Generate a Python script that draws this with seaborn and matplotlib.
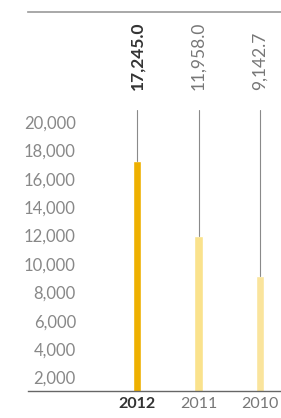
'''Bar chart of yearly totals, 2010-2012'''

import matplotlib.pyplot as plt
import seaborn as sns
import pandas as pd

#data
years = ['2012', '2011', '2010']
values = [17245.0, 11958.0, 9142.7]
value_labels = ['17,245.0', '11,958.0', '9,142.7']
tick_values = [2000, 4000, 6000, 8000, 10000, 12000, 14000, 16000, 18000, 20000]
tick_labels = ['2,000', '4,000', '6,000', '8,000', '10,000', '12,000', '14,000', '16,000', '18,000', '20,000']

bar_colors = {'2012': '#EEB000', '2011': '#FAE28C', '2010': '#FAE49C'}
label_colors = ['#333333', '#777777', '#777777']

df = pd.DataFrame({'year': years, 'value': values})

sns.set_style('white')
plt.rcParams['font.family'] = ['Lato', 'DejaVu Sans']

fig = plt.figure(figsize=(2.81, 4.18), dpi=100)
ax = fig.add_axes([28 / 281, 27 / 418, 253 / 281, 379 / 418])

sns.barplot(data=df, x='year', y='value', hue='year', palette=bar_colors,
            order=years, width=0.14, legend=False, ax=ax, saturation=1)

ax.set_ylim(1050, 27750)
ax.set_xlim(-1.77, 2.34)

#thin lines and value labels above bars
for i, (v, lab) in enumerate(zip(values, value_labels)):
    ax.plot([i, i], [v, 20850], color='#8a8a8a', lw=0.8, zorder=1)
    ax.text(i, 22250, lab, rotation=90, ha='center', va='bottom',
            fontsize=12.5, color=label_colors[i],
            fontweight='bold' if i == 0 else 'normal')

ax.set_yticks(tick_values)
ax.set_yticklabels(tick_labels, color='#888888', fontsize=12)
ax.tick_params(axis='y', length=0, pad=-34.5)
ax.tick_params(axis='x', length=0, pad=4)
for i, t in enumerate(ax.get_xticklabels()):
    t.set_fontsize(11.5)
    t.set_color(label_colors[i])
    if i == 0:
        t.set_fontweight('bold')

ax.set_xlabel('')
ax.set_ylabel('')
sns.despine(ax=ax, left=True, right=True, top=False)
ax.spines['bottom'].set_color('#666666')
ax.spines['bottom'].set_linewidth(1)
ax.spines['top'].set_color('#999999')
ax.spines['top'].set_linewidth(1.2)

plt.savefig('out.png', dpi=100)
